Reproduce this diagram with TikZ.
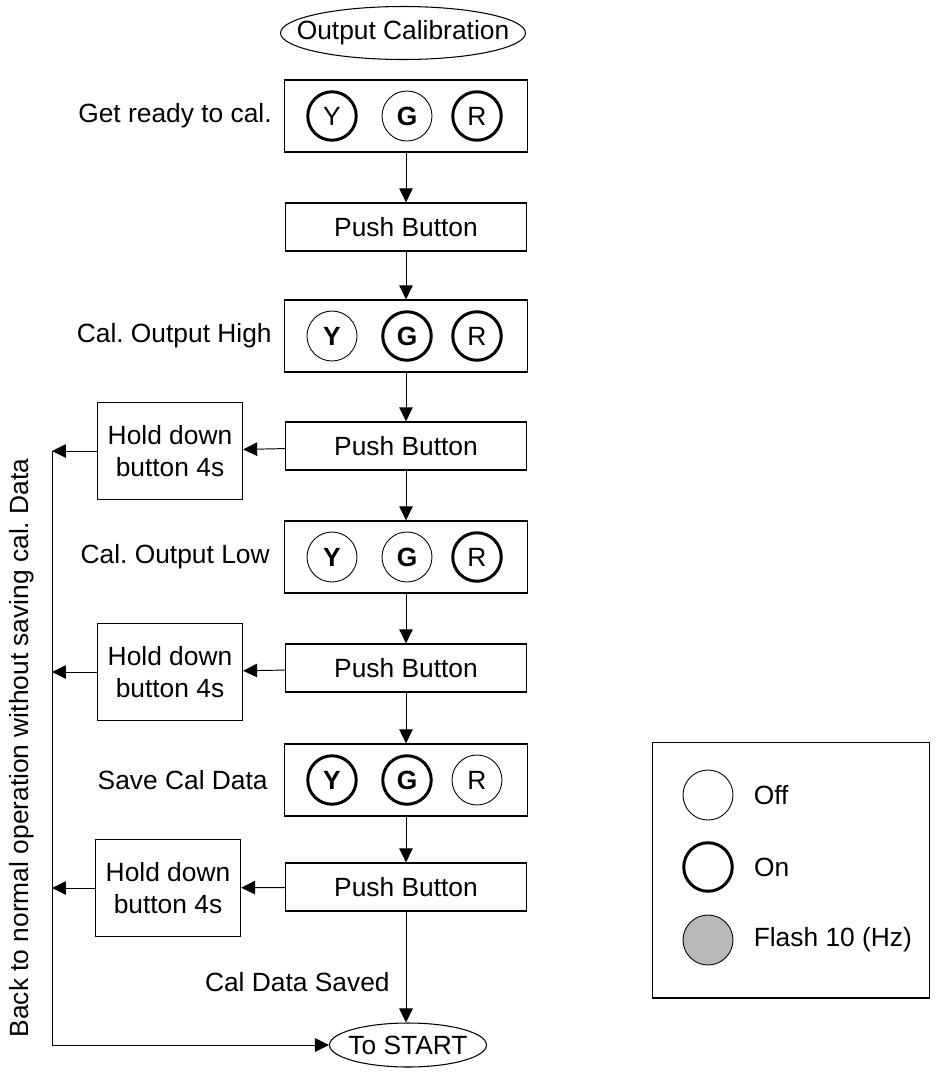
\documentclass[tikz,border=0pt]{standalone}
\usepackage{fontspec}
\setmainfont{Liberation Sans}
\usetikzlibrary{positioning,arrows.meta,shapes.geometric}
\frenchspacing
\tikzset{
  flow/.style={-{Triangle[length=0.28cm,width=0.27cm]},line width=0.55pt},
  statebox/.style={draw,line width=0.75pt,minimum width=4.86cm,minimum height=1.44cm,inner sep=0pt},
  pushbox/.style={draw,line width=0.75pt,minimum width=4.82cm,minimum height=0.96cm,inner sep=0pt},
  holdbox/.style={draw,line width=0.75pt,minimum width=2.9cm,minimum height=1.94cm,align=center,inner sep=0pt},
  terminal/.style={draw,ellipse,line width=0.6pt,inner ysep=0pt,inner xsep=-0.5cm},
  lampoff/.style={draw,circle,line width=0.5pt,minimum size=1cm,inner sep=0pt},
  lampon/.style={draw,circle,line width=1.7pt,minimum size=0.97cm,inner sep=0pt},
  lampflash/.style={draw,circle,line width=0.5pt,fill=black!28,minimum size=1cm,inner sep=0pt},
  label/.style={anchor=east,inner sep=0pt}
}
\begin{document}
\begin{tikzpicture}[x=0.02cm,y=-0.02cm,font=\fontsize{15}{18}\selectfont]
  \useasboundingbox (0,0) rectangle (940,1072);
  % main column
  \node[terminal,minimum width=4.9cm,minimum height=1.06cm] (title) at (403,33) {Output Calibration};
  \node[statebox] (ready) at (406,116) {};
  \node[pushbox] (push1) at (406,227) {Push Button};
  \node[statebox] (high) at (406,336) {};
  \node[pushbox] (push2) at (406,446) {Push Button};
  \node[statebox] (low) at (406,557) {};
  \node[pushbox] (push3) at (406,668) {Push Button};
  \node[statebox] (save) at (406,780) {};
  \node[pushbox] (push4) at (406,887) {Push Button};
  \node[terminal,minimum width=3.14cm,minimum height=0.88cm] (tostart) at (408,1045) {To START};
  % state labels
  \node[label] (readylbl) at (272,116) {Get ready to cal.};
  \node[label] (highlbl) at (272,336) {Cal. Output High};
  \node[label] (lowlbl) at (270,557) {Cal. Output Low};
  \node[label] (savelbl) at (268,780) {Save Cal Data};
  \node[anchor=east,inner sep=0pt] (savedlbl) at (390,982) {Cal Data Saved};
  % lamps
  \node[lampon] (readyY) at (332,116) {Y};
  \node[lampoff] (readyG) at (407,116) {\bfseries G};
  \node[lampon] (readyR) at (477,116) {R};
  \node[lampoff] (highY) at (332,336) {\bfseries Y};
  \node[lampon] (highG) at (407,336) {\bfseries G};
  \node[lampon] (highR) at (477,336) {R};
  \node[lampoff] (lowY) at (332,557) {\bfseries Y};
  \node[lampoff] (lowG) at (407,557) {\bfseries G};
  \node[lampon] (lowR) at (477,557) {R};
  \node[lampon] (saveY) at (332,780) {\bfseries Y};
  \node[lampon] (saveG) at (407,780) {\bfseries G};
  \node[lampoff] (saveR) at (477,780) {R};
  % escape path
  \node[holdbox] (hold1) at (170,451) {Hold down\\button 4s};
  \node[holdbox] (hold2) at (170,672) {Hold down\\button 4s};
  \node[holdbox] (hold3) at (168,888) {Hold down\\button 4s};
  \coordinate (rail1) at (52,451);
  \coordinate (rail2) at (52,672);
  \coordinate (rail3) at (52,888);
  \node[rotate=90,inner sep=0pt] (backlbl) at (22,748) {Back to normal operation without saving cal. Data};
  % legend
  \node[draw,line width=0.6pt,minimum width=5.54cm,minimum height=5.12cm] (legend) at (791,870) {};
  \node[lampoff] (offkey) at (708,795) {};
  \node[lampon] (onkey) at (708,867) {};
  \node[lampflash] (flashkey) at (708,940) {};
  \node[right=0.4cm of offkey,inner sep=0pt] (offlbl) {Off};
  \node[right=0.4cm of onkey,inner sep=0pt] (onlbl) {On};
  \node[right=0.4cm of flashkey,inner sep=0pt] (flashlbl) {Flash 10 (Hz)};
  % connectors
  \draw[flow] (ready) -- (push1);
  \draw[flow] (push1) -- (high);
  \draw[flow] (high) -- (push2);
  \draw[flow] (push2) -- (low);
  \draw[flow] (low) -- (push3);
  \draw[flow] (push3) -- (save);
  \draw[flow] (save) -- (push4);
  \draw[flow] (push4) -- (push4 |- tostart.north);
  \draw[flow] (push2) -- (hold1);
  \draw[flow] (push3) -- (hold2);
  \draw[flow] (push4) -- (hold3);
  \draw[flow] (hold1) -- (rail1);
  \draw[flow] (hold2) -- (rail2);
  \draw[flow] (hold3) -- (rail3);
  \draw[flow] (rail1) |- (tostart);
\end{tikzpicture}
\end{document}
